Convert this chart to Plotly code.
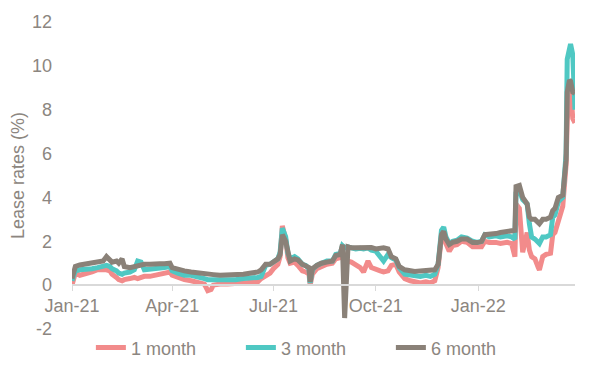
import plotly.graph_objects as go

dates = ["2021-01-01","2021-01-04","2021-01-08","2021-01-13","2021-01-19","2021-01-24","2021-01-29","2021-02-01","2021-02-04","2021-02-06",
"2021-02-10","2021-02-12","2021-02-15","2021-02-17","2021-02-22","2021-02-26","2021-03-01","2021-03-04","2021-03-07","2021-03-12",
"2021-03-16","2021-03-21","2021-03-25","2021-03-30","2021-04-01","2021-04-06","2021-04-12","2021-04-18","2021-04-24","2021-04-30",
"2021-05-03","2021-05-06","2021-05-08","2021-05-14","2021-05-21","2021-05-28","2021-06-04","2021-06-11","2021-06-17","2021-06-20",
"2021-06-24","2021-06-28","2021-07-01","2021-07-05","2021-07-07","2021-07-09","2021-07-12","2021-07-14","2021-07-16","2021-07-20",
"2021-07-23","2021-07-27","2021-07-30","2021-08-02","2021-08-03","2021-08-05","2021-08-09","2021-08-13","2021-08-18","2021-08-23",
"2021-08-26","2021-08-30","2021-09-01","2021-09-03","2021-09-06","2021-09-09","2021-09-13","2021-09-17","2021-09-20","2021-09-24",
"2021-09-27","2021-10-01","2021-10-05","2021-10-08","2021-10-12","2021-10-15","2021-10-19","2021-10-22","2021-10-27","2021-11-01",
"2021-11-05","2021-11-10","2021-11-15","2021-11-19","2021-11-23","2021-11-26","2021-11-29","2021-12-01","2021-12-03","2021-12-06",
"2021-12-09","2021-12-13","2021-12-17","2021-12-22","2021-12-27","2021-12-31","2022-01-04","2022-01-07","2022-01-11","2022-01-17",
"2022-01-21","2022-01-27","2022-01-31","2022-02-03","2022-02-04","2022-02-07","2022-02-10","2022-02-14","2022-02-16","2022-02-18",
"2022-02-21","2022-02-24","2022-02-25","2022-02-28","2022-03-03","2022-03-07","2022-03-09","2022-03-11","2022-03-14","2022-03-18",
"2022-03-21","2022-03-22","2022-03-24","2022-03-25","2022-03-27","2022-03-29"]

one_month = [0.0,0.55,0.45,0.5,0.6,0.7,0.72,0.7,0.65,0.5,
0.35,0.25,0.2,0.25,0.3,0.35,0.3,0.35,0.4,0.4,
0.45,0.5,0.55,0.6,0.45,0.35,0.25,0.2,0.15,0.05,
-0.25,-0.2,0.0,0.05,0.05,0.08,0.08,0.1,0.15,0.3,
0.45,0.55,0.75,0.95,1.3,2.7,2.1,1.25,1.0,1.05,
0.9,0.65,0.6,0.5,0.0,0.5,0.75,0.85,0.95,1.0,
1.2,1.25,1.5,1.3,1.1,1.05,0.9,0.8,0.6,1.1,
0.8,0.7,0.65,0.6,0.65,0.9,0.95,0.6,0.3,0.2,
0.15,0.1,0.15,0.1,0.2,0.8,2.2,2.35,1.9,1.55,
1.8,1.85,2.0,1.95,1.75,1.75,1.75,2.0,1.95,1.95,
1.9,1.95,1.9,1.3,3.7,3.5,1.5,2.4,1.6,1.3,
1.2,0.8,0.7,1.3,1.4,1.45,2.3,2.4,3.0,3.6,
5.5,7.5,8.8,9.0,7.6,7.4]

three_month = [0.2,0.65,0.7,0.7,0.75,0.8,0.85,0.9,0.85,0.75,
0.65,0.55,0.5,0.55,0.6,0.7,1.1,1.05,0.7,0.72,
0.75,0.8,0.8,0.85,0.65,0.55,0.45,0.45,0.4,0.3,
0.25,0.25,0.25,0.25,0.22,0.25,0.3,0.3,0.35,0.4,
0.9,0.95,1.05,1.2,1.5,2.6,2.2,1.45,1.2,1.3,
1.2,0.95,0.9,0.75,0.1,0.7,0.9,1.0,1.1,1.1,
1.4,1.45,1.8,1.7,1.75,1.7,1.65,1.68,1.65,1.7,
1.6,1.55,1.3,1.1,1.4,1.25,1.15,0.8,0.5,0.45,
0.42,0.4,0.45,0.4,0.5,0.95,2.5,2.65,2.2,1.9,
2.0,2.05,2.2,2.15,2.0,1.95,2.0,2.3,2.2,2.25,
2.2,2.25,2.2,2.1,4.2,4.3,3.9,3.7,2.8,2.2,
2.1,1.95,1.9,2.2,2.2,2.3,3.1,3.2,3.8,4.0,
6.0,10.3,11.0,11.0,10.5,8.0]

six_month = [0.3,0.85,0.92,0.95,1.0,1.05,1.1,1.3,1.15,1.05,
1.1,1.0,1.2,0.85,0.8,0.85,0.9,0.88,0.95,0.95,
0.98,0.97,0.98,1.0,0.8,0.72,0.65,0.6,0.55,0.5,
0.5,0.5,0.48,0.45,0.45,0.48,0.5,0.55,0.6,0.7,
0.95,0.95,1.05,1.2,1.4,2.3,2.0,1.4,1.1,1.2,
1.15,0.95,0.9,0.8,0.15,0.75,0.9,1.0,1.05,1.1,
1.35,1.4,1.85,-1.5,1.75,1.7,1.7,1.72,1.7,1.7,
1.72,1.65,1.7,1.7,1.65,1.3,1.2,0.85,0.7,0.65,
0.62,0.65,0.68,0.65,0.7,0.95,2.3,2.45,2.1,1.85,
1.95,2.0,2.1,2.1,1.95,1.95,2.0,2.3,2.3,2.35,
2.4,2.45,2.45,2.5,4.5,4.55,4.0,3.7,3.1,3.0,
3.0,2.8,2.8,3.0,3.0,3.1,3.4,3.5,4.0,4.1,
5.7,8.8,9.35,9.3,8.8,8.75]

series_names = ["1 month", "3 month", "6 month"]
series_values = [one_month, three_month, six_month]
series_colors = ["#F28B8B", "#4FC8C3", "#8A8178"]

x_tick_labels = ["Jan-21", "Apr-21", "Jul-21", "Oct-21", "Jan-22"]
x_tick_dates = ["2021-01-01", "2021-04-01", "2021-07-01", "2021-10-01", "2022-01-01"]
y_tick_values = [-2, 0, 2, 4, 6, 8, 10, 12]
y_tick_labels = ["-2", "0", "2", "4", "6", "8", "10", "12"]

text_color = "#8C8680"
font_family = "Liberation Sans, Arial, sans-serif"
fsize = 18

fig = go.Figure()
for name, vals, col in zip(series_names, series_values, series_colors):
    fig.add_trace(go.Scatter(x=dates, y=vals, mode="lines", name=name,
                             line=dict(color=col, width=5)))

# the page body has an 8px margin, so the figure is sized to the visible area
fig.update_layout(
    width=592, height=357,
    margin=dict(l=64, r=25, t=14, b=36, autoexpand=False),
    paper_bgcolor="white", plot_bgcolor="white",
    font=dict(family=font_family, size=fsize, color=text_color),
    showlegend=True,
    legend=dict(orientation="h", xref="container", yref="container",
                x=0.140, y=0.048, xanchor="left", yanchor="middle",
                entrywidth=105, entrywidthmode="pixels",
                font=dict(size=fsize, color=text_color), itemwidth=30,
                bgcolor="rgba(0,0,0,0)"),
)
fig.update_xaxes(
    type="date", range=["2021-01-01", "2022-03-29"],
    anchor="free", position=2/14,
    tickvals=x_tick_dates, ticktext=x_tick_labels,
    showline=True, linecolor="#D9D9D9", linewidth=1.5,
    ticks="outside", ticklen=5, tickcolor="#D9D9D9", tickwidth=1,
    showgrid=False, zeroline=False,
    tickfont=dict(size=fsize, color=text_color),
)
fig.update_yaxes(
    range=[-2, 12], tickvals=y_tick_values, ticktext=y_tick_labels,
    showgrid=False, zeroline=False, showline=False, ticks="",
    ticklabelstandoff=19,
    tickfont=dict(size=fsize, color=text_color),
    title=dict(text="Lease rates (%)", font=dict(size=fsize, color=text_color), standoff=11),
)

fig.write_html("out.html")
